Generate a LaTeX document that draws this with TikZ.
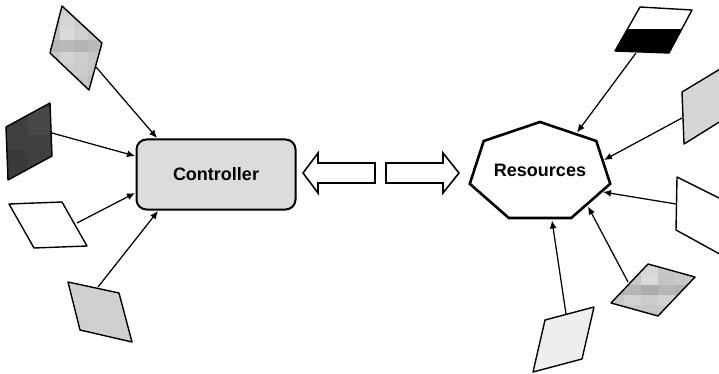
\documentclass[tikz,border=0pt]{standalone}
\usepackage{fontspec}
\setmainfont{Liberation Sans}
\usetikzlibrary{arrows.meta,calc}

\definecolor{ctrlfill}{RGB}{220,220,220}
\definecolor{darkcard}{RGB}{64,64,64}
\definecolor{darkcardA}{RGB}{72,72,72}
\definecolor{darkcardB}{RGB}{58,58,58}
\definecolor{midcard}{RGB}{208,208,208}
\definecolor{sidecard}{RGB}{214,214,214}
\definecolor{palecard}{RGB}{238,238,238}
\definecolor{blockbase}{RGB}{200,200,200}

\begin{document}
\begin{tikzpicture}[x=1pt,y=-1pt,
  card/.style={draw=black, line width=1.4pt, line join=round},
  feed/.style={draw=black, line width=1.25pt, -{Latex[length=8pt,width=7pt]}},
  hollow/.style={draw=black, fill=white, line width=1.6pt, line join=miter},
  boldtext/.style={font=\bfseries\fontsize{18}{20}\selectfont}]

\useasboundingbox (0,0) rectangle (719,374);
\clip (0,0) rectangle (719,374);

% ---------- controller ----------
\node[draw=black, fill=ctrlfill, rounded corners=10pt, line width=2pt,
      minimum width=159pt, minimum height=70pt, boldtext] (ctrl) at (216,174.5) {Controller};

% ---------- resources (squashed heptagon) ----------
\coordinate (h1) at (540,122);
\coordinate (h2) at (596.3,141);
\coordinate (h3) at (610.2,183.8);
\coordinate (h4) at (571.2,218);
\coordinate (h5) at (508.8,218);
\coordinate (h6) at (469.8,183.8);
\coordinate (h7) at (483.7,141);
\draw[line width=2.6pt, line join=miter, fill=white]
  (h1) -- (h2) -- (h3) -- (h4) -- (h5) -- (h6) -- (h7) -- cycle;
\node[boldtext] (res) at (540,170) {Resources};

% ---------- hollow exchange arrows ----------
\draw[hollow] (303,173) -- (318,153) -- (318,163) -- (375,163) -- (375,183)
  -- (318,183) -- (318,193) -- cycle;
\draw[hollow] (459,173) -- (443,153) -- (443,163) -- (386,163) -- (386,183)
  -- (443,183) -- (443,193) -- cycle;

% ---------- cards feeding the controller ----------
% upper grey card with a blocky shading
\begin{scope}
  \clip (62,6) -- (102,43) -- (89,90) -- (50,53) -- cycle;
  \fill[blockbase] (40,0) rectangle (110,95);
  \foreach \yy/\row in {4/{200,208,200,192},16/{196,214,204,196},28/{194,218,208,198},
                        40/{182,186,180,186},52/{198,210,206,200},64/{200,206,204,198},
                        76/{194,200,198,194}} {
    \foreach \v [count=\k from 0] in \row {
      \definecolor{cellcol}{RGB}{\v,\v,\v}
      \fill[cellcol] ({46+14*\k},\yy) rectangle +(14,12);
    }
  }
\end{scope}
\draw[card] (62,6) -- (102,43) -- (89,90) -- (50,53) -- cycle;
\coordinate (s1) at (96,67);

% dark card
\begin{scope}
  \clip (50,103) -- (52,156) -- (8,180) -- (6,127) -- cycle;
  \fill[darkcard] (0,100) rectangle (60,185);
  \fill[darkcardA] (28,108) rectangle (52,135);
  \fill[darkcardB] (0,150) rectangle (28,185);
\end{scope}
\draw[card] (50,103) -- (52,156) -- (8,180) -- (6,127) -- cycle;
\coordinate (s2) at (52,133);

% white card
\draw[card, fill=white] (9,204) -- (62,202) -- (87,246) -- (34,248) -- cycle;
\coordinate (s3) at (77,223);

% lower grey card
\draw[card, fill=midcard] (68,282) -- (119,293) -- (132,342) -- (80,330) -- cycle;
\coordinate (s4) at (98,287);

% connectors into the controller
\coordinate (c1) at (157,138);
\coordinate (c2) at (135,156);
\coordinate (c3) at (135,193);
\coordinate (c4) at (158,211);
\draw[feed] (s1) -- (c1);
\draw[feed] (s2) -- (c2);
\draw[feed] (s3) -- (c3);
\draw[feed] (s4) -- (c4);

% ---------- cards feeding the resources ----------
% half white / half black card
\begin{scope}
  \clip (640,7) -- (692,10) -- (669,53) -- (615,51) -- cycle;
  \fill[white] (600,0) rectangle (700,29);
  \fill[black] (600,29) rectangle (700,60);
\end{scope}
\draw[card] (640,7) -- (692,10) -- (669,53) -- (615,51) -- cycle;
\coordinate (r1) at (636,53);

% grey card at the right border
\draw[card, fill=sidecard] (682,92) -- (745,54) -- (745,106) -- (684,144) -- cycle;
\coordinate (r2) at (682,118);

% white card at the right border
\draw[card, fill=white] (677,177) -- (745,211) -- (745,268) -- (676,230) -- cycle;
\coordinate (r3) at (676,204);

% blocky grey card
\begin{scope}
  \clip (648,264) -- (695,277) -- (658,316) -- (611,303) -- cycle;
  \fill[blockbase] (600,255) rectangle (700,320);
  \foreach \yy/\row in {255/{204,204,214,204,200},265/{202,202,214,200,204},
                        275/{190,200,218,196,200},285/{172,182,172,182,178},
                        295/{200,210,204,210,200},305/{194,200,198,200,196}} {
    \foreach \v [count=\k from 0] in \row {
      \definecolor{cellcol}{RGB}{\v,\v,\v}
      \fill[cellcol] ({607+17*\k},\yy) rectangle +(17,10);
    }
  }
\end{scope}
\draw[card] (648,264) -- (695,277) -- (658,316) -- (611,303) -- cycle;
\coordinate (r4) at (628,282);

% pale card at the bottom
\draw[card, fill=palecard] (545,320) -- (594,307) -- (582,359) -- (533,372) -- cycle;
\coordinate (r5) at (566,314);

% connectors into the resources
\coordinate (t1) at (577,132.5);
\coordinate (t2) at (604,160);
\coordinate (t3) at (603,192);
\coordinate (t4) at (588,206.5);
\coordinate (t5) at (552,220.5);
\draw[feed] (r1) -- (t1);
\draw[feed] (r2) -- (t2);
\draw[feed] (r3) -- (t3);
\draw[feed] (r4) -- (t4);
\draw[feed] (r5) -- (t5);

\end{tikzpicture}
\end{document}
